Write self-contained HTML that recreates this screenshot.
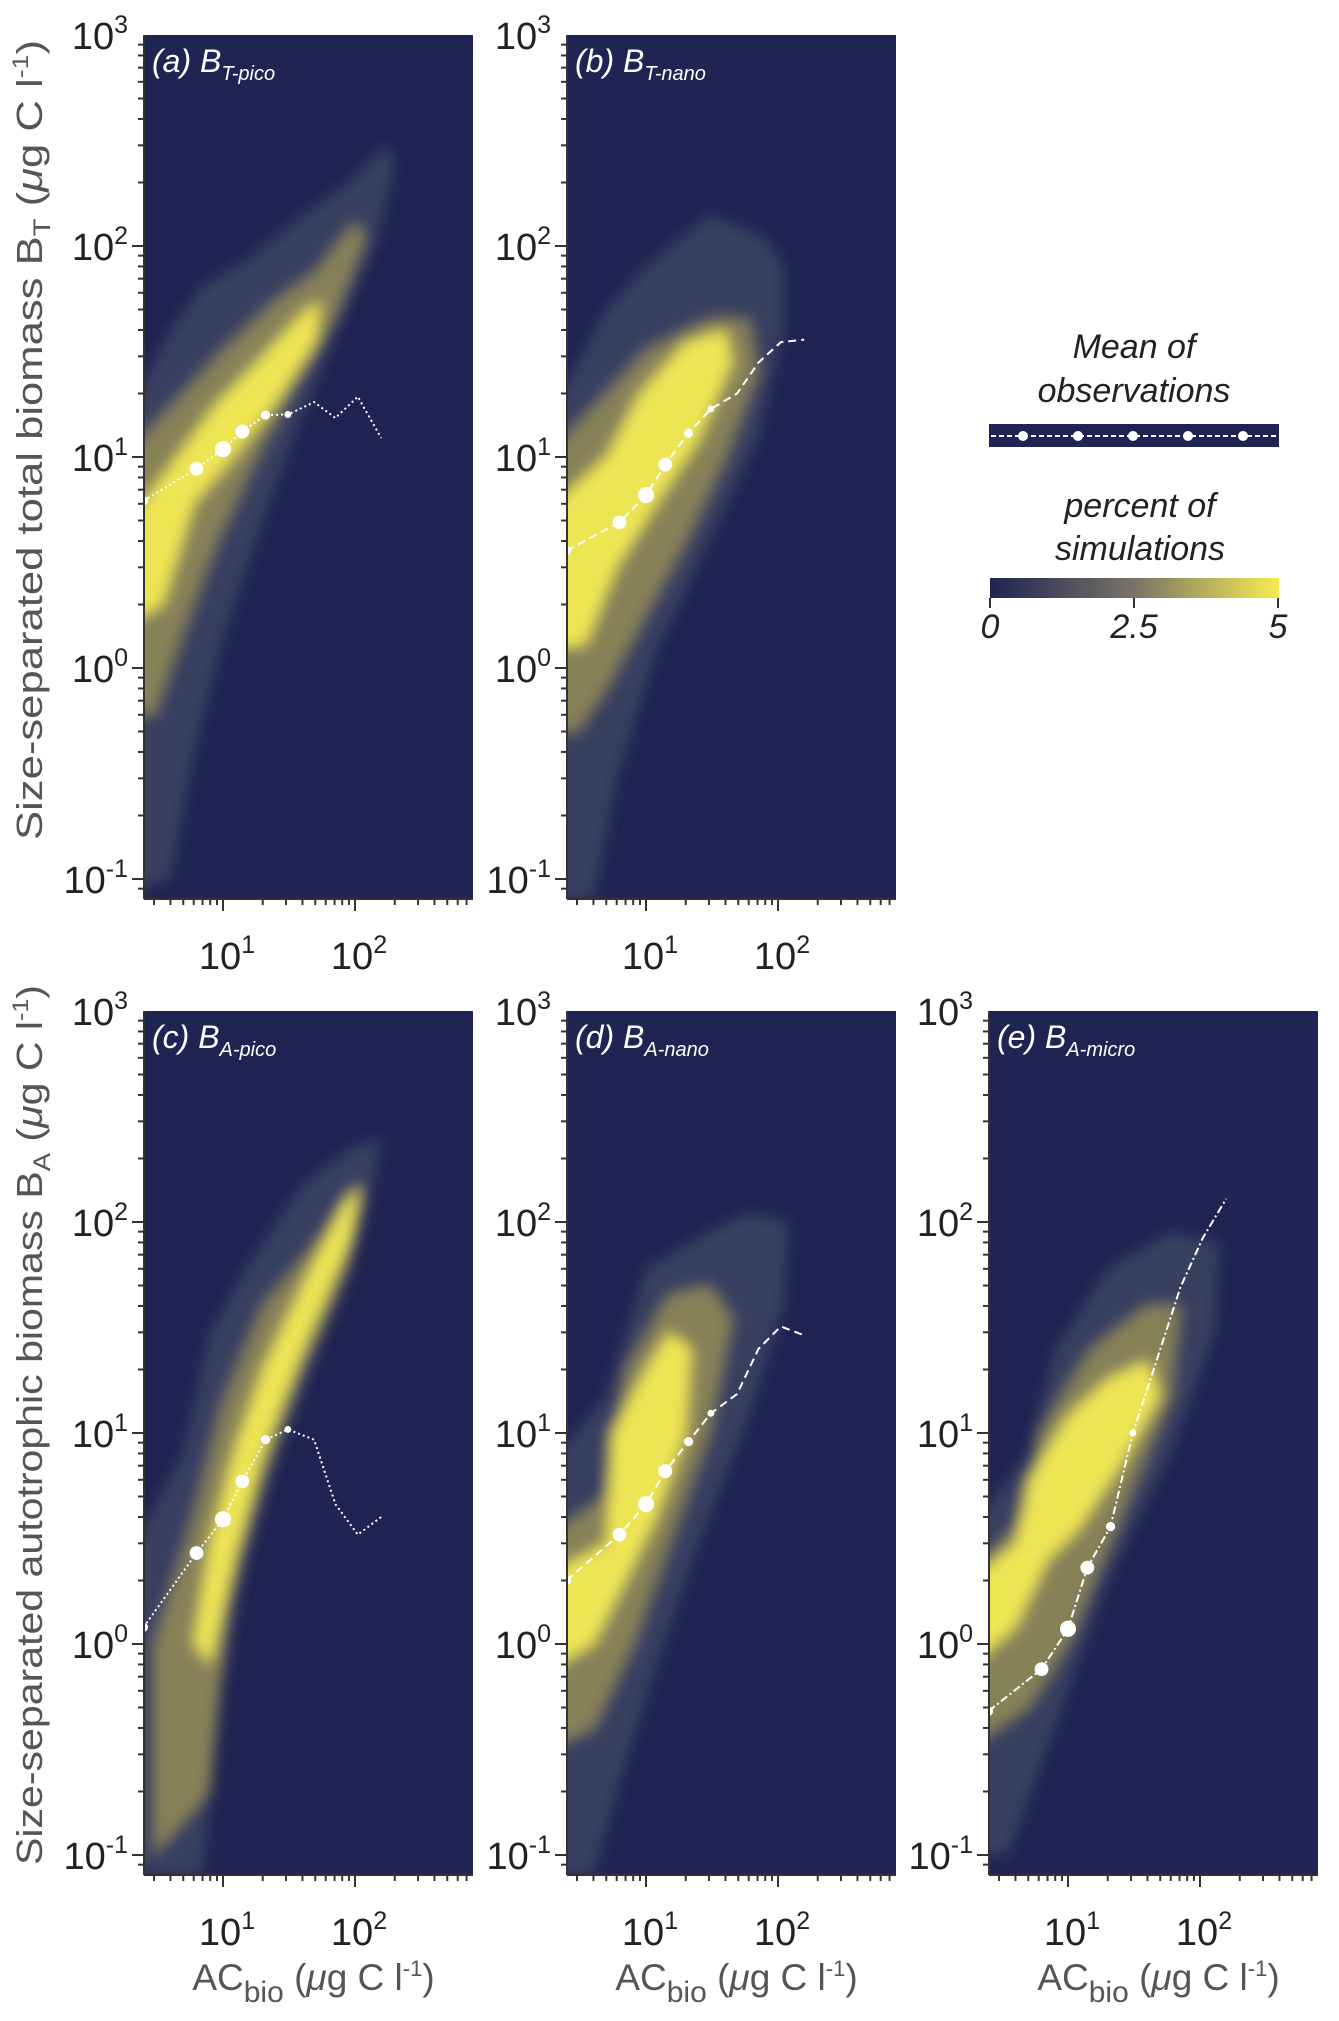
<!DOCTYPE html>
<html><head><meta charset="utf-8"><style>
html,body{margin:0;padding:0;background:#fff}
svg{display:block}
text{font-family:"Liberation Sans",sans-serif}
</style></head><body>
<svg id="fig" xmlns="http://www.w3.org/2000/svg" width="1339" height="2021" viewBox="0 0 1339 2021">
<defs>
<filter id="blur" x="-20%" y="-20%" width="140%" height="140%"><feGaussianBlur stdDeviation="7"/></filter>
<linearGradient id="cbar" x1="0" x2="1" y1="0" y2="0">
<stop offset="0" stop-color="#1f2452"/><stop offset="0.5" stop-color="#7a7466"/><stop offset="1" stop-color="#f5ec52"/></linearGradient>
</defs>
<g id="panels"></g>
<g id="legend">
<text x="1134" y="358" font-size="34" font-style="italic" text-anchor="middle" fill="#222">Mean of</text>
<text x="1134" y="402" font-size="34" font-style="italic" text-anchor="middle" fill="#222">observations</text>
<rect x="989" y="424" width="290" height="23" fill="#1f2452"/>
<line x1="991" y1="436" x2="1277" y2="436" stroke="#fff" stroke-width="2" stroke-dasharray="5,3"/>
<g fill="#fff"><circle cx="1023" cy="436" r="5"/><circle cx="1078" cy="436" r="5"/><circle cx="1133" cy="436" r="5"/><circle cx="1188" cy="436" r="5"/><circle cx="1243" cy="436" r="5"/></g>
<text x="1140" y="517" font-size="34" font-style="italic" text-anchor="middle" fill="#222">percent of</text>
<text x="1140" y="560" font-size="34" font-style="italic" text-anchor="middle" fill="#222">simulations</text>
<rect x="990" y="578" width="289" height="20" fill="url(#cbar)"/>
<g stroke="#333" stroke-width="2"><line x1="990" y1="598" x2="990" y2="608"/><line x1="1134" y1="598" x2="1134" y2="608"/><line x1="1278" y1="598" x2="1278" y2="608"/></g>
<text x="990" y="638" font-size="34" font-style="italic" text-anchor="middle" fill="#222">0</text>
<text x="1134" y="638" font-size="34" font-style="italic" text-anchor="middle" fill="#222">2.5</text>
<text x="1278" y="638" font-size="34" font-style="italic" text-anchor="middle" fill="#222">5</text>
</g>
<text transform="translate(42,440) rotate(-90)" font-size="36" text-anchor="middle" fill="#555" textLength="800" lengthAdjust="spacingAndGlyphs">Size-separated total biomass B<tspan font-size="24" dy="8">T</tspan><tspan dy="-8"> (</tspan><tspan font-style="italic">μ</tspan>g C l<tspan font-size="22" dy="-14">-1</tspan><tspan dy="14">)</tspan></text>
<text transform="translate(42,1425) rotate(-90)" font-size="36" text-anchor="middle" fill="#555" textLength="880" lengthAdjust="spacingAndGlyphs">Size-separated autotrophic biomass B<tspan font-size="24" dy="8">A</tspan><tspan dy="-8"> (</tspan><tspan font-style="italic">μ</tspan>g C l<tspan font-size="22" dy="-14">-1</tspan><tspan dy="14">)</tspan></text>
</svg>
<script>
// ---- data ----
const xObs = [2.5, 6.3, 10, 14, 21, 31, 49, 71, 105, 158];
const yA = [6.2, 8.8, 10.9, 13.2, 15.8, 15.9, 18.2, 15.3, 19.3, 12.3];
const yB = [3.6, 4.9, 6.6, 9.2, 13, 16.9, 20, 28, 35, 36];
const yC = [1.2, 2.7, 3.9, 5.9, 9.3, 10.4, 9.3, 4.6, 3.3, 4.0];
const yD = [2.0, 3.3, 4.6, 6.6, 9.1, 12.4, 15.3, 25, 32, 29];
const yE = [0.48, 0.76, 1.18, 2.3, 3.6, 10, 24, 49, 84, 129];
const dotSizes = [4, 6, 7, 6, 4, 3, 0, 0, 0, 0];
const yTicks = [0.1, 1, 10, 100, 1000];
const yTickExp = ["-1", "0", "1", "2", "3"];
const xTicks = [10, 100];
const xTickExp = ["1", "2"];
// density envelopes [x, y] in data units: outer, mid, core
const densA = [
 [[2.5,0.08],[2.5,12],[4,40],[7,65],[15,85],[40,140],[90,200],[170,300],[200,250],[150,110],[80,45],[40,16],[20,5],[10,1.4],[6,0.4],[4,0.1]],
 [[2.5,0.6],[2.5,9],[5,20],[10,32],[25,55],[50,75],[100,130],[120,110],[70,45],[35,22],[18,10],[9,4],[5,1.5],[3,0.6]],
 [[2.5,1.5],[2.5,4],[5,11],[9,18],[20,30],[40,48],[55,55],[50,35],[25,18],[12,10],[6,6],[3.5,2]]];
const densB = [
 [[2.5,0.08],[2.5,12],[5,50],[10,80],[30,140],[80,110],[110,80],[110,40],[70,12],[30,4],[12,1.2],[6,0.3],[4,0.08]],
 [[2.5,0.5],[2.5,9],[5,20],[10,32],[30,45],[60,45],[70,25],[40,10],[20,4],[10,1.8],[5,0.8],[3,0.5]],
 [[2.5,1.2],[2.5,5],[5,10],[9,20],[20,35],[40,40],[45,28],[25,12],[12,6],[6,3],[3.5,1.3]]];
const densC = [
 [[2.5,0.08],[2.5,2],[5,8],[8,30],[15,60],[40,150],[90,220],[160,250],[120,100],[60,30],[30,10],[15,2.5],[9,0.5],[7,0.08]],
 [[3,0.1],[3,1],[6,4],[10,14],[20,40],[60,90],[110,140],[90,60],[40,20],[20,6],[11,1.5],[8,0.2]],
 [[6,1],[8,3],[12,8],[20,20],[40,50],[80,120],[110,150],[90,80],[40,25],[20,8],[12,2.5],[8,0.8]]];
const densD = [
 [[2.5,0.08],[2.5,6],[5,15],[10,60],[30,90],[60,110],[120,100],[110,40],[60,12],[25,3],[12,0.8],[6,0.2],[4,0.08]],
 [[2.5,0.3],[2.5,3],[5,5],[7,20],[15,45],[30,50],[45,35],[30,10],[15,3],[8,1],[4,0.4]],
 [[2.5,0.7],[2.5,2],[5,3],[5.5,10],[10,20],[15,30],[22,25],[20,10],[12,4],[7,2],[4,1]]];
const densE = [
 [[2.5,0.1],[2.5,3],[5,8],[8,25],[20,60],[60,90],[140,80],[130,30],[60,8],[20,2],[10,0.6],[6,0.25],[3.5,0.1]],
 [[2.5,0.3],[2.5,2],[5,4],[6,10],[15,25],[40,40],[70,40],[60,15],[25,4],[10,1],[5,0.5]],
 [[2.5,0.7],[2.5,1.8],[4,3],[5,6],[10,12],[20,18],[40,22],[50,15],[25,7],[12,3.5],[7,2.5],[4,1.2]]];

const panels = [
 {id:"a", L:144, T:35, main:"(a) B", sub:"T-pico", y:yA, dash:"2,3", dens:densA, xlabel:false},
 {id:"b", L:567, T:35, main:"(b) B", sub:"T-nano", y:yB, dash:"8,5", dens:densB, xlabel:false},
 {id:"c", L:144, T:1011, main:"(c) B", sub:"A-pico", y:yC, dash:"2,3", dens:densC, xlabel:true},
 {id:"d", L:567, T:1011, main:"(d) B", sub:"A-nano", y:yD, dash:"8,5", dens:densD, xlabel:true},
 {id:"e", L:989, T:1011, main:"(e) B", sub:"A-micro", y:yE, dash:"8,3,2,3", dens:densE, xlabel:true}
];
const NS = "http://www.w3.org/2000/svg";
const W = 329, DEC = 211, XDEC = 132;
const H = DEC * 4 + 20;
function mk(tag, attrs, parent){ const e = document.createElementNS(NS, tag); for (const k in attrs) e.setAttribute(k, attrs[k]); parent.appendChild(e); return e; }
const root = document.getElementById("panels");
panels.forEach(p => {
  const sx = v => p.L + 79 + (Math.log10(v) - 1) * XDEC;
  const sy = v => p.T + (3 - Math.log10(v)) * DEC;
  const g = mk("g", {}, root);
  
  
  const cp = mk("clipPath", {id: "clip" + p.id}, g);
  mk("rect", {x: p.L, y: p.T, width: W, height: H}, cp);
  const bg = mk("rect", {x: p.L, y: p.T, width: W, height: H, fill: "#1f2452"}, g);
  
  
  const dg = mk("g", {"clip-path": "url(#clip" + p.id + ")"}, g);
  const dgi = mk("g", {filter: "url(#blur)"}, dg);
  
  
  const cols = ["#3a4263", "#8c8558", "#f3ea55"];
  p.dens.forEach((poly, i) => {
    const pts = poly.map(q => {
      const xx = q[0] <= 2.5 ? p.L - 30 : sx(q[0]);
      return xx.toFixed(1) + "," + sy(q[1]).toFixed(1);
    }).join(" ");
    const pg = mk("polygon", {points: pts, fill: cols[i], opacity: i === 0 ? 0.9 : 0.95}, dgi);
    
    
  });
  const lp = xObs.map((x, i) => sx(x).toFixed(1) + "," + sy(p.y[i]).toFixed(1)).join(" ");
  const ln = mk("polyline", {points: lp, fill: "none", stroke: "#fff", "stroke-width": 2, "stroke-dasharray": p.dash}, dg);
  
  
  xObs.forEach((x, i) => {
    if (dotSizes[i] > 0) {
      const c = mk("circle", {cx: sx(x), cy: sy(p.y[i]), r: dotSizes[i] * 1.15, fill: "#fff"}, dg);
      
      
    }
  });
  const ax = mk("g", {stroke: "#333", "stroke-width": 2}, g);
  
  
  mk("line", {x1: p.L, y1: p.T, x2: p.L, y2: p.T + H}, ax);
  mk("line", {x1: p.L, y1: p.T + H, x2: p.L + W, y2: p.T + H}, ax);
  for (let d = -2; d <= 2; d++) for (let m = 1; m <= 9; m++) {
    const v = m * Math.pow(10, d);
    const yy = sy(v);
    if (yy >= p.T - 1 && yy <= p.T + H) mk("line", {x1: p.L, y1: yy, x2: p.L - (m === 1 ? 12 : 6), y2: yy}, ax);
  }
  for (let d = 0; d <= 2; d++) for (let m = 1; m <= 9; m++) {
    const v = m * Math.pow(10, d);
    const xx = sx(v);
    if (xx >= p.L + 1 && xx <= p.L + W + 1) mk("line", {x1: xx, y1: p.T + H, x2: xx, y2: p.T + H + (m === 1 ? 12 : 6)}, ax);
  }
  yTicks.forEach((v, i) => {
    const t = mk("text", {x: p.L - 16, y: sy(v) + 14, "font-size": 38, "text-anchor": "end", fill: "#222"}, g);
    
    
    t.textContent = "10";
    const s = mk("tspan", {"font-size": 25, dy: -16}, t); s.textContent = yTickExp[i];
  });
  xTicks.forEach((v, i) => {
    const t = mk("text", {x: sx(v) + 4, y: p.T + H + 70, "font-size": 38, "text-anchor": "middle", fill: "#222"}, g);
    
    
    t.textContent = "10";
    const s = mk("tspan", {"font-size": 25, dy: -16}, t); s.textContent = xTickExp[i];
  });
  const tt = mk("text", {x: p.L + 8, y: p.T + 37, "font-size": 32, "font-style": "italic", fill: "#fff"}, g);
  
  
  tt.textContent = p.main;
  const ts = mk("tspan", {"font-size": 20, dy: 8}, tt); ts.textContent = p.sub;
  if (p.xlabel) {
    const xl = mk("text", {x: p.L + W / 2 + 5, y: 1990, "font-size": 37, "text-anchor": "middle", fill: "#555"}, g);
    
    
    xl.appendChild(document.createTextNode("AC"));
    const b = mk("tspan", {"font-size": 30, dy: 12}, xl); b.textContent = "bio";
    const r = mk("tspan", {dy: -12}, xl); r.textContent = " (";
    const mu = mk("tspan", {"font-style": "italic"}, xl); mu.textContent = "μ";
    const r2 = mk("tspan", {}, xl); r2.textContent = "g C l";
    const e = mk("tspan", {"font-size": 22, dy: -14}, xl); e.textContent = "-1";
    const r3 = mk("tspan", {dy: 14}, xl); r3.textContent = ")";
  }
});
</script>
</body></html>
